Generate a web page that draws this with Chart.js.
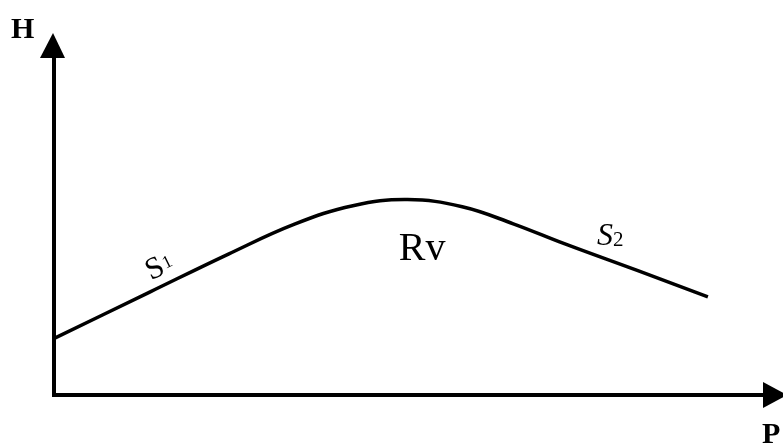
<!DOCTYPE html>
<html>
<head>
<meta charset="utf-8">
<script src="https://cdn.jsdelivr.net/npm/chart.js@4.4.0/dist/chart.umd.min.js"></script>
<style>
  html, body { margin: 0; padding: 0; background: #fff; }
  #chart { display: block; }
</style>
</head>
<body>
<canvas id="chart" width="783" height="444"></canvas>
<script>
// curve H(P), arbitrary units 0..100
var pValues = [0.1, 13.2, 24, 33, 41, 48.5, 56, 63, 70, 80, 89.7];
var hValues = [15.7, 28.5, 39, 47.2, 52.3, 54, 52, 47.3, 41.8, 34.4, 27.1];

// axis names and curve labels
var axisLabels = ['H', 'P'];
var curveLabels = ['S', 'Rv', 'S'];
var curveSubs = ['1', '', '2'];
var labelP = [13.3, 47.3, 74.5];
var labelH = [31.6, 37.2, 41.5];

var points = pValues.map(function (p, i) { return { x: p, y: hValues[i] }; });

// рисуем оси со стрелками и подписи
var axesPlugin = {
    id: 'axesPlugin',
    afterDatasetsDraw: function (chart) {
        var c = chart.ctx;
        var a = chart.chartArea;
        var xs = chart.scales.x, ys = chart.scales.y;
        c.save();
        c.strokeStyle = '#000';
        c.fillStyle = '#000';
        c.lineWidth = 4;
        c.beginPath();
        c.moveTo(a.left, a.bottom + 2);
        c.lineTo(a.left, 56);
        c.moveTo(a.left - 2, a.bottom);
        c.lineTo(766, a.bottom);
        c.stroke();
        // стрелка H
        c.beginPath();
        c.moveTo(a.left - 1, 33);
        c.lineTo(a.left - 14, 58);
        c.lineTo(a.left + 11, 58);
        c.closePath();
        c.fill();
        // стрелка P
        c.beginPath();
        c.moveTo(787, a.bottom);
        c.lineTo(763, a.bottom - 13);
        c.lineTo(763, a.bottom + 13);
        c.closePath();
        c.fill();

        c.font = 'bold 30px "Liberation Serif"';
        c.textBaseline = 'alphabetic';
        c.fillText(axisLabels[0], 11, 38);
        c.fillText(axisLabels[1], 762, 443);

        // S1 (повернута вдоль кривой)
        var x0 = xs.getPixelForValue(labelP[0]), y0 = ys.getPixelForValue(labelH[0]);
        c.save();
        c.translate(x0, y0);
        c.rotate(-26 * Math.PI / 180);
        c.font = '31px "Liberation Serif"';
        c.fillText(curveLabels[0], 0, 0);
        var w = c.measureText(curveLabels[0]).width;
        c.font = '18px "Liberation Serif"';
        c.fillText(curveSubs[0], w + 1, -4);
        c.restore();

        // Rv
        c.font = '40px "Liberation Serif"';
        c.fillText(curveLabels[1], xs.getPixelForValue(labelP[1]), ys.getPixelForValue(labelH[1]));

        // S2
        var x2 = xs.getPixelForValue(labelP[2]), y2 = ys.getPixelForValue(labelH[2]);
        c.font = 'italic 32px "Liberation Serif"';
        c.fillText(curveLabels[2], x2, y2);
        w = c.measureText(curveLabels[2]).width;
        c.font = '21px "Liberation Serif"';
        c.fillText(curveSubs[2], x2 + w, y2 + 1);
        c.restore();
    }
};

var ctx = document.getElementById('chart').getContext('2d');

var myChart = new Chart(ctx, {
    type: 'scatter',
    data: {
        datasets: [{
            data: points,
            showLine: true,
            borderColor: '#000',
            borderWidth: 3.5,
            pointRadius: 0,
            tension: 0.4,
            fill: false
        }]
    },
    options: {
        responsive: false,
        animation: false,
        layout: { padding: { left: 54, top: 33, right: 0, bottom: 49 } },
        plugins: {
            legend: { display: false },
            tooltip: { enabled: false }
        },
        scales: {
            x: { type: 'linear', min: 0, max: 100, display: false },
            y: { type: 'linear', min: 0, max: 100, display: false }
        }
    },
    plugins: [axesPlugin]
});
</script>
</body>
</html>
